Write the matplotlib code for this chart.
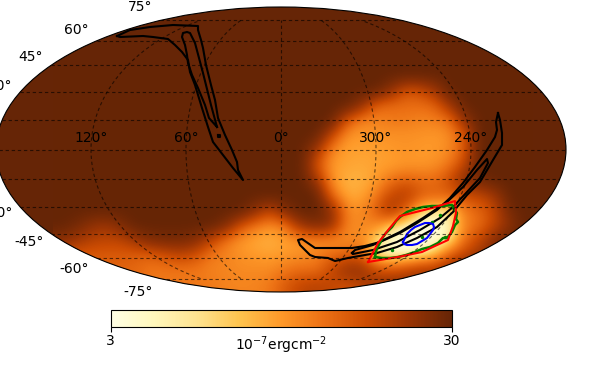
import matplotlib
matplotlib.use("Agg")
import matplotlib.pyplot as plt
from matplotlib.colors import LogNorm
from matplotlib.patches import Ellipse
import numpy as np

# fluence map on a regular grid of the projected plane (plane units, y going down)
grid_x = [60, 75, 90, 105, 120, 135, 150, 165, 180, 195, 210, 225, 240, 255, 270, 285,
          300, 315, 330, 345, 360, 375, 390, 405, 420, 435, 450, 465, 480, 495, 510, 525]
grid_y = [75, 90, 105, 120, 135, 150, 165, 180, 195, 210, 225, 240, 255, 270, 285, 300]
fluence = [
    [30]*32,
    [30]*22 + [24, 16, 17, 22] + [30]*6,
    [30]*20 + [24, 14, 13, 13, 13, 14, 22] + [30]*5,
    [30]*19 + [16, 11, 11, 12, 12, 11, 11.5, 12.5, 24] + [30]*4,
    [30]*18 + [18, 10, 9.5, 10, 10, 10, 10, 9.5, 10.5, 15] + [30]*4,
    [30]*17 + [22, 11, 9, 9, 9, 9.5, 10, 9.5, 9.5, 10.5, 15, 30] + [30]*3,
    [30]*17 + [16, 9.5, 9, 8.5, 9, 9, 9.5, 9.5, 10, 12, 18, 30] + [30]*3,
    [30]*17 + [22, 10, 8, 8, 9, 12, 14, 13, 13, 17, 25, 28] + [30]*3,
    [30]*18 + [13, 8.5, 8.5, 11, 17, 20, 15, 14, 14, 17, 18, 22, 30, 30],
    [30]*13 + [24, 18, 26, 30, 30, 24, 11, 10, 14, 22, 14, 6, 5, 5.5, 12, 14, 18, 28, 30],
    [30, 28, 24, 22, 26, 30, 30, 30, 30, 30, 30, 26, 16, 12, 10, 12, 22, 26, 24, 11,
     10.5, 11, 6, 3.8, 3.2, 3.2, 4, 11, 13, 18, 24, 30],
    [25, 22, 19, 18, 18, 22, 26, 27, 27, 25, 18, 12, 9.5, 8.5, 8, 9, 9.5, 10, 9.5, 10,
     11, 6, 3.5, 3, 3, 3, 4.5, 13, 18, 25, 30, 30],
    [15, 15, 15, 15, 15, 14, 14, 16, 18, 16, 12, 11, 10, 9.5, 9, 9.5, 10, 11, 13, 14,
     14, 4.5, 3.5, 3.2, 4, 7, 14, 18, 22, 26, 30, 30],
    [14, 14, 14, 14, 14, 14, 12, 12, 12, 12, 11, 11, 10.5, 10.5, 10.5, 12, 13, 12.5, 17, 23,
     24, 17, 15, 17, 20, 20, 24, 28, 30, 30, 30, 30],
    [12]*10 + [12, 11, 11, 11, 12, 15, 18, 19, 18, 16, 18, 22] + [24]*10,
    [12]*10 + [12, 11, 11, 11, 12, 15, 18, 19, 18, 16, 18, 22] + [24]*10,
]

# long arc in the upper left
arc_a_outer_x = [117, 130, 150, 173, 198, 198, 201, 203, 206, 211, 215, 218, 225, 232, 237, 238, 243,
                 233, 223, 213, 208, 202, 195, 190, 188, 182, 175, 168, 153, 143, 120, 117]
arc_a_outer_y = [36, 30, 27, 25, 26, 30, 40, 48, 65, 85, 100, 118, 135, 150, 162, 170, 180,
                 168, 155, 142, 127, 108, 85, 72, 60, 52, 45, 39, 37, 36, 37, 36]
arc_a_inner_x = [217, 211, 206, 203, 199, 195, 190, 187, 183, 182, 185, 187, 188, 192, 198, 205, 209, 217]
arc_a_inner_y = [127, 105, 85, 73, 58, 43, 33, 32, 33, 37, 45, 55, 63, 75, 88, 105, 118, 127]
arc_a_dot_x = [218, 220, 220, 218, 218]
arc_a_dot_y = [135, 135, 137, 137, 135]

# long arc in the lower right
arc_b_outer_x = [498, 496, 497, 495, 487, 475, 463, 450, 437, 417, 400, 380, 365, 352, 332, 315, 302, 298,
                 300, 310, 315, 328, 335, 348, 365, 377, 397, 417, 437, 453, 467, 480, 493, 502, 502, 500, 498]
arc_b_outer_y = [113, 122, 130, 137, 150, 167, 183, 198, 210, 223, 233, 242, 246, 248, 248, 248, 239, 240,
                 245, 255, 257, 258, 261, 258, 255, 253, 247, 238, 227, 212, 195, 182, 160, 145, 133, 120, 113]
arc_b_inner_x = [352, 355, 373, 400, 423, 447, 463, 477, 487, 488, 480, 467, 453, 440, 420, 397, 373, 353, 352]
arc_b_inner_y = [253, 250, 245, 232, 218, 202, 187, 170, 159, 163, 178, 192, 207, 218, 230, 242, 250, 254, 253]

# localisation regions around the bright spot
green_x = [375, 376, 377, 380, 383, 386, 392, 396, 400, 407, 415, 423, 432, 442, 452, 454, 457, 456, 458, 455,
           452, 447, 443, 438, 430, 422, 415, 406, 398, 390, 382, 375]
green_y = [257, 252, 248, 243, 237, 233, 227, 221, 217, 212, 209, 207, 206, 206, 205, 209, 213, 219, 222, 225,
           232, 238, 238, 243, 247, 249, 252, 255, 257, 258, 258, 257]
green_spots_x = [422, 440, 445, 392, 432]
green_spots_y = [237, 215, 237, 250, 222]
red_x = [368, 378, 389, 400, 432, 455, 456, 453, 448, 422, 398, 368]
red_y = [262, 243, 229, 216, 208, 201, 213, 226, 240, 252, 257, 262]
blue_x = [403, 405, 407, 411, 415, 420, 425, 429, 433, 434, 433, 430, 427, 422, 417, 412, 407, 404, 403]
blue_y = [242, 238, 234, 230, 227, 225, 223, 223, 224, 227, 230, 234, 238, 241, 244, 245, 245, 244, 242]

lon_labels = ["120°", "60°", "0°", "300°", "240°"]

fig = plt.figure(figsize=(5.98, 3.89), dpi=100)
map_pos = [-4 / 598, 1 - 292 / 389, 570 / 598, 285 / 389]

# image and contours live in the projected plane
ax = fig.add_axes(map_pos)
ax.axis("off")

norm = LogNorm(vmin=3, vmax=30)
cmap = plt.get_cmap("YlOrBr")
step = 15
im = ax.imshow(fluence, cmap=cmap, norm=norm, aspect="auto", interpolation="bicubic",
               interpolation_stage="data", origin="upper",
               extent=[grid_x[0] - step / 2, grid_x[-1] + step / 2,
                       grid_y[-1] + step / 2, grid_y[0] - step / 2], zorder=1)
ax.set_xlim(-4, 566)
ax.set_ylim(292, 7)
sky = Ellipse((281, 149.5), 570, 285, facecolor=cmap(1.0), edgecolor="none", zorder=0)
ax.add_patch(sky)
im.set_clip_path(sky)

for xs, ys in [(arc_a_outer_x, arc_a_outer_y), (arc_a_inner_x, arc_a_inner_y),
               (arc_a_dot_x, arc_a_dot_y), (arc_b_outer_x, arc_b_outer_y),
               (arc_b_inner_x, arc_b_inner_y)]:
    ax.plot(xs, ys, color="black", lw=1.5, zorder=3)
ax.plot(green_x, green_y, color="green", lw=1.8, zorder=4)
ax.plot(green_spots_x, green_spots_y, ls="none", marker="o", ms=1.5, color="green", zorder=4)
ax.plot(red_x, red_y, color="red", lw=1.5, zorder=5)
ax.plot(blue_x, blue_y, color="blue", lw=1.5, zorder=6)

# graticule, frame and its labels
geo = fig.add_axes(map_pos, projection="mollweide")
geo.set_facecolor("none")
geo.set_longitude_grid(60)
geo.set_latitude_grid(15)
geo.set_longitude_grid_ends(75)
geo.set_xticklabels(lon_labels)
geo.grid(True, color="black", linestyle=(0, (3, 2.5)), linewidth=0.8, alpha=0.6)
geo.tick_params(labelsize=10)

cax = fig.add_axes([110.7 / 598, 1 - 327 / 389, 341 / 598, 17 / 389])
cbar = fig.colorbar(im, cax=cax, orientation="horizontal")
cbar.set_ticks([3, 30])
cbar.set_ticklabels(["3", "30"])
cbar.ax.minorticks_off()
cbar.ax.tick_params(pad=1.5)
cbar.set_label(r"$10^{-7}$ergcm$^{-2}$", labelpad=-10)

fig.savefig("out.png", dpi=100)
